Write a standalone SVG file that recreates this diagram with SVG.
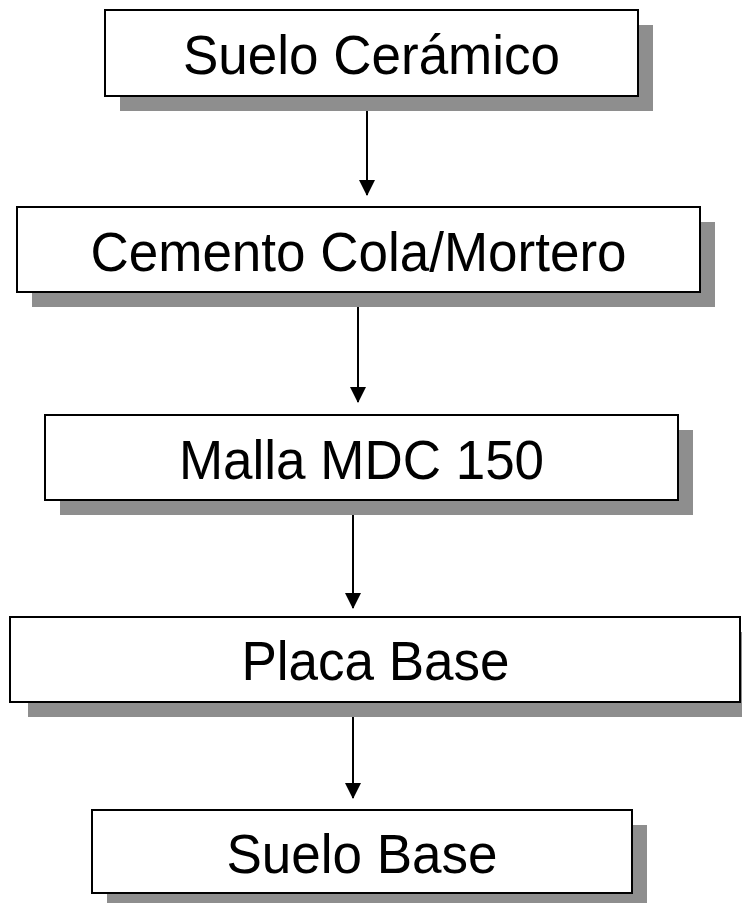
<svg xmlns="http://www.w3.org/2000/svg" width="742" height="903" viewBox="0 0 742 903">
<style>
.sh{fill:#8e8e8e;stroke:none}
.bx{fill:#fff;stroke:#000;stroke-width:2}
.t{font-family:"Liberation Sans",Arial,sans-serif;font-size:53px;fill:#000;text-anchor:middle}
.c{stroke:#000;stroke-width:2;fill:none}
</style>
<defs>
<marker id="ah" markerWidth="8" markerHeight="8" refX="7.5" refY="4" orient="auto" markerUnits="strokeWidth">
<path d="M0,0 L8,4 L0,8 Z" fill="#000"/>
</marker>
</defs>
<rect width="742" height="903" fill="#fff"/>
<g id="connectors">
<line class="c" x1="367" y1="110" x2="367" y2="195" marker-end="url(#ah)"/>
<line class="c" x1="358" y1="307" x2="358" y2="402" marker-end="url(#ah)"/>
<line class="c" x1="353" y1="515" x2="353" y2="608" marker-end="url(#ah)"/>
<line class="c" x1="353" y1="710" x2="353" y2="798" marker-end="url(#ah)"/>
</g>
<g id="n1">
<rect class="sh" x="120" y="25" width="533" height="86"/>
<rect class="bx" x="105" y="10" width="533" height="86"/>
<text class="t" transform="translate(371.5,74) scale(1,1.05)">Suelo Cerámico</text>
</g>
<g id="n2">
<rect class="sh" x="32" y="222" width="683" height="85"/>
<rect class="bx" x="17" y="207" width="683" height="85"/>
<text class="t" transform="translate(358.5,271) scale(1,1.05)">Cemento Cola/Mortero</text>
</g>
<g id="n3">
<rect class="sh" x="60" y="430" width="633" height="85"/>
<rect class="bx" x="45" y="415" width="633" height="85"/>
<text class="t" transform="translate(361.5,479) scale(1,1.05)">Malla MDC 150</text>
</g>
<g id="n4">
<rect class="sh" x="28" y="632" width="730" height="85"/>
<rect class="bx" x="10" y="617" width="730" height="85"/>
<text class="t" transform="translate(375.5,680) scale(1,1.05)">Placa Base</text>
</g>
<g id="n5">
<rect class="sh" x="107" y="825" width="540" height="83"/>
<rect class="bx" x="92" y="810" width="540" height="83"/>
<text class="t" transform="translate(362,873) scale(1,1.05)">Suelo Base</text>
</g>
</svg>
